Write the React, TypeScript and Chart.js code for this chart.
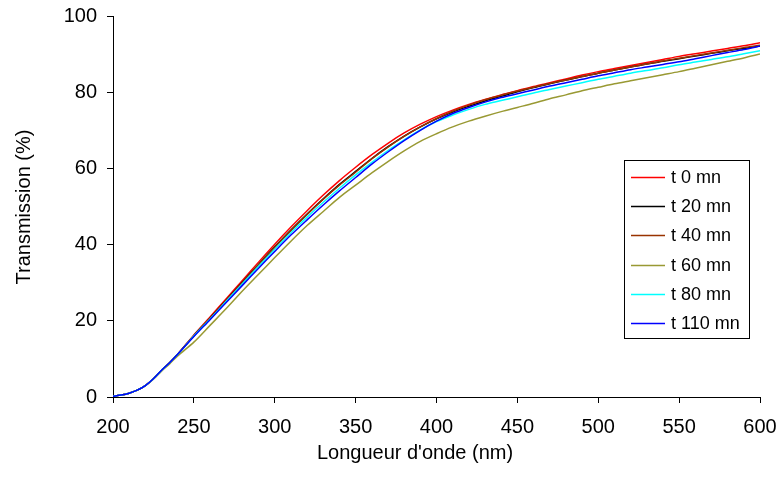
import React, { useEffect, useRef } from "react";
import { Chart, registerables } from "chart.js";

Chart.register(...registerables);

const wavelengths = [200, 205, 210, 215, 220, 225, 230, 235, 240, 250, 260, 270, 280, 290, 300, 310, 320, 330, 340, 350, 360, 370, 380, 390, 400, 410, 420, 430, 440, 450, 460, 470, 480, 490, 500, 510, 520, 530, 540, 550, 560, 570, 580, 590, 600];

const t0 = [0.2, 0.5, 1.0, 1.8, 3.0, 4.8, 7.0, 9.0, 11.2, 16.3, 21.0, 25.8, 30.6, 35.4, 40.1, 44.6, 48.9, 53.0, 56.8, 60.3, 63.6, 66.6, 69.3, 71.6, 73.6, 75.3, 76.8, 78.1, 79.3, 80.4, 81.5, 82.5, 83.5, 84.5, 85.4, 86.2, 87.0, 87.8, 88.6, 89.4, 90.1, 90.8, 91.5, 92.2, 93.0];
const t20 = [0.2, 0.5, 1.0, 1.8, 3.0, 4.8, 7.0, 9.0, 11.2, 16.1, 20.7, 25.4, 30.1, 34.8, 39.4, 43.8, 48.0, 52.0, 55.8, 59.2, 62.6, 65.7, 68.5, 70.9, 73.0, 74.8, 76.3, 77.7, 78.9, 80.1, 81.2, 82.2, 83.2, 84.1, 85.0, 85.8, 86.6, 87.4, 88.1, 88.8, 89.5, 90.2, 90.9, 91.5, 92.1];
const t40 = [0.2, 0.5, 1.0, 1.8, 3.0, 4.8, 7.0, 9.0, 11.2, 16.1, 20.6, 25.3, 30.0, 34.7, 39.3, 43.7, 47.9, 51.9, 55.6, 59.0, 62.5, 65.6, 68.4, 70.9, 73.1, 75.0, 76.6, 78.0, 79.2, 80.3, 81.3, 82.3, 83.2, 84.1, 85.0, 85.8, 86.6, 87.4, 88.2, 88.9, 89.6, 90.3, 91.0, 91.7, 92.3];
const t60 = [0.2, 0.5, 1.0, 1.8, 3.0, 4.7, 6.8, 8.7, 10.8, 14.4, 18.8, 23.2, 27.8, 32.2, 36.6, 40.9, 45.0, 48.7, 52.4, 55.6, 58.8, 61.8, 64.6, 67.1, 69.1, 70.9, 72.4, 73.7, 74.9, 76.0, 77.1, 78.3, 79.3, 80.4, 81.3, 82.2, 83.0, 83.8, 84.6, 85.4, 86.3, 87.2, 88.1, 89.0, 90.0];
const t80 = [0.2, 0.5, 1.0, 1.8, 3.0, 4.8, 7.0, 9.0, 11.2, 16.0, 20.5, 25.1, 29.7, 34.3, 38.8, 43.1, 47.2, 51.1, 54.8, 58.3, 61.6, 64.7, 67.5, 70.1, 72.3, 74.0, 75.5, 76.8, 77.8, 78.8, 79.8, 80.7, 81.6, 82.5, 83.4, 84.2, 85.0, 85.7, 86.4, 87.2, 87.9, 88.6, 89.3, 90.1, 90.9];
const t110 = [0.2, 0.5, 1.0, 1.8, 3.0, 4.8, 7.0, 9.0, 11.2, 15.9, 20.3, 24.8, 29.3, 33.8, 38.2, 42.5, 46.5, 50.4, 54.1, 57.6, 61.1, 64.3, 67.3, 70.0, 72.4, 74.4, 76.0, 77.4, 78.6, 79.6, 80.6, 81.6, 82.5, 83.4, 84.3, 85.1, 85.9, 86.6, 87.3, 88.0, 88.8, 89.6, 90.4, 91.2, 92.1];

const seriesLabels = ["t 0 mn", "t 20 mn", "t 40 mn", "t 60 mn", "t 80 mn", "t 110 mn"];
const seriesValues = [t0, t20, t40, t60, t80, t110];
const seriesColors = ["#FF0000", "#000000", "#993300", "#999933", "#00FFFF", "#0000FF"];

const xTitle = "Longueur d'onde (nm)";
const yTitle = "Transmission (%)";

const FONT = "'Liberation Sans', Arial, sans-serif";

const decorPlugin = {
  id: "decor",
  afterDraw(chart: any) {
    const ctx = chart.ctx;
    ctx.save();
    // axis titles
    ctx.fillStyle = "#000000";
    ctx.font = `20px ${FONT}`;
    ctx.textAlign = "center";
    ctx.textBaseline = "middle";
    ctx.fillText(xTitle, 415, 453);
    ctx.save();
    ctx.translate(24, 207);
    ctx.rotate(-Math.PI / 2);
    ctx.fillText(yTitle, 0, 0);
    ctx.restore();
    // legend
    const bx = 624.5, by = 160.5, bw = 125, bh = 178;
    ctx.fillStyle = "#ffffff";
    ctx.fillRect(bx, by, bw, bh);
    ctx.strokeStyle = "#000000";
    ctx.lineWidth = 1;
    ctx.strokeRect(bx, by, bw, bh);
    ctx.font = `18px ${FONT}`;
    ctx.textBaseline = "middle";
    ctx.textAlign = "left";
    chart.data.datasets.forEach((ds: any, i: number) => {
      const y = 176.7 + i * 29.3;
      ctx.strokeStyle = ds.borderColor;
      ctx.lineWidth = 1.5;
      ctx.beginPath();
      ctx.moveTo(631, Math.round(y) + 0.5);
      ctx.lineTo(665, Math.round(y) + 0.5);
      ctx.stroke();
      ctx.fillStyle = "#000000";
      ctx.fillText(ds.label, 671, y + 1);
    });
    ctx.restore();
  },
};

export default function App() {
  const ref = useRef<HTMLCanvasElement | null>(null);
  useEffect(() => {
    if (!ref.current) return;
    const chart = new Chart(ref.current, {
      type: "line",
      data: {
        datasets: seriesValues.map((vals, i) => ({
          label: seriesLabels[i],
          data: wavelengths.map((w, j) => ({ x: w, y: vals[j] })),
          borderColor: seriesColors[i],
          backgroundColor: seriesColors[i],
          borderWidth: 1.5,
          pointRadius: 0,
          tension: 0.3,
          fill: false,
          order: seriesLabels.length - 1 - i,
        })),
      },
      options: {
        animation: false,
        responsive: false,
        maintainAspectRatio: false,
        layout: { padding: { top: 16, right: 18, left: 0, bottom: 0 } },
        plugins: {
          legend: { display: false },
          tooltip: { enabled: false },
        },
        scales: {
          x: {
            type: "linear",
            min: 200,
            max: 600,
            ticks: { stepSize: 50, color: "#000", font: { size: 20, family: FONT }, padding: 12, maxRotation: 0 },
            grid: { drawOnChartArea: false, drawTicks: true, tickLength: 6, color: "#000" },
            border: { display: true, color: "#000", width: 1 },
            afterFit: (s: any) => { s.height = 93; s.paddingRight = 0; s.paddingLeft = 0; },
          },
          y: {
            min: 0,
            max: 100,
            ticks: { stepSize: 20, color: "#000", font: { size: 20, family: FONT }, padding: 10 },
            grid: { drawOnChartArea: false, drawTicks: true, tickLength: 6, color: "#000" },
            border: { display: true, color: "#000", width: 1 },
            afterFit: (s: any) => { s.width = 113; s.paddingTop = 0; s.paddingBottom = 0; },
          },
        },
      },
      plugins: [decorPlugin],
    } as any);
    return () => chart.destroy();
  }, []);
  return (
    <div style={{ position: "absolute", left: 0, top: 0, width: 778, height: 490, background: "#fff" }}>
      <canvas ref={ref} width={778} height={490} style={{ width: 778, height: 490 }} />
    </div>
  );
}
